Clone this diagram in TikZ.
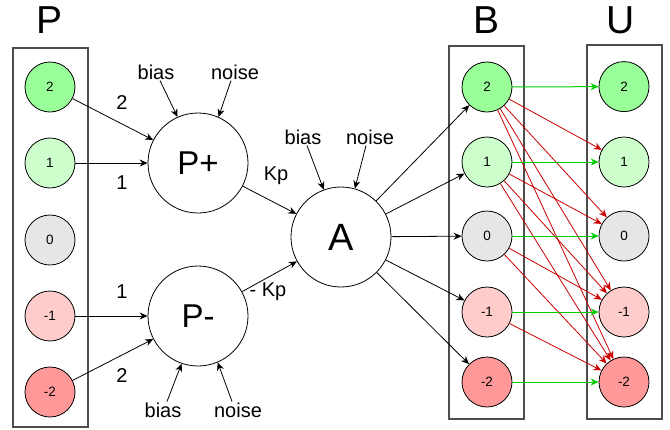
\documentclass[tikz,border=0pt]{standalone}
\usepackage{fontspec}
\setmainfont{Liberation Sans}
\usetikzlibrary{arrows.meta}
\definecolor{gA}{HTML}{99FF99}
\definecolor{gB}{HTML}{CCFFCC}
\definecolor{grA}{HTML}{E6E6E6}
\definecolor{rB}{HTML}{FFCCCC}
\definecolor{rA}{HTML}{FF9999}
\definecolor{garr}{HTML}{00CC00}
\definecolor{rarr}{HTML}{CC0000}
\definecolor{boxc}{HTML}{4D4D4D}
\begin{document}
\begin{tikzpicture}[x=1pt,y=-1pt,
  small/.style={circle,draw=black,line width=0.8pt,minimum size=50pt,inner sep=0pt,font=\fontsize{13.5}{15}\selectfont},
  big/.style={circle,draw=black,line width=0.8pt,fill=white,minimum size=100pt,inner sep=0pt},
  colbox/.style={draw=boxc,line width=1.2pt},
  title/.style={font=\fontsize{39}{42}\selectfont},
  lbl/.style={font=\fontsize{20}{23}\selectfont,inner sep=1pt},
  arr/.style={-{Stealth[length=8pt,width=7pt]},line width=0.8pt},
  garrow/.style={arr,draw=garr,line width=1pt},
  rarrow/.style={arr,draw=rarr},
]
\useasboundingbox (0,0) rectangle (670,429);
% boxes
\draw[colbox] (13,48) rectangle (88,427);
\draw[colbox] (449,46) rectangle (524,419);
\draw[colbox] (587,45) rectangle (662,419);
% titles
\node[title] (tP) at (50,20) {P};
\node[title] (tB) at (487,20) {B};
\node[title] (tU) at (621,20) {U};
% P column
\node[small,fill=gA] (p2) at (50,87) {2};
\node[small,fill=gB] (p1) at (50,163) {1};
\node[small,fill=grA] (p0) at (50,240) {0};
\node[small,fill=rB] (pm1) at (50,316) {-1};
\node[small,fill=rA] (pm2) at (50,392) {-2};
% B column
\node[small,fill=gA] (b2) at (487,87) {2};
\node[small,fill=gB] (b1) at (487,162) {1};
\node[small,fill=grA] (b0) at (487,236) {0};
\node[small,fill=rB] (bm1) at (487,312) {-1};
\node[small,fill=rA] (bm2) at (487,382) {-2};
% U column
\node[small,fill=gA] (u2) at (624,86.6) {2};
\node[small,fill=gB] (u1) at (624,162) {1};
\node[small,fill=grA] (u0) at (624,236) {0};
\node[small,fill=rB] (um1) at (624,312) {-1};
\node[small,fill=rA] (um2) at (624,382) {-2};
% big nodes
\node[big,font=\fontsize{33}{36}\selectfont] (pp) at (198,163) {P+};
\node[big,font=\fontsize{33}{36}\selectfont] (pm) at (198,316) {P-};
\node[big,font=\fontsize{38}{42}\selectfont] (a) at (341,237) {A};
% bias / noise labels
\node[lbl] (bias1) at (156,72) {bias};
\node[lbl] (noise1) at (235,72) {noise};
\node[lbl] (bias2) at (163,410) {bias};
\node[lbl] (noise2) at (238,410) {noise};
\node[lbl] (bias3) at (303,137) {bias};
\node[lbl] (noise3) at (370,137) {noise};
\draw[arr] ([xshift=4pt]bias1.south) -- (pp.114);
\draw[arr] ([xshift=-4pt]noise1.south) -- (pp.66);
\draw[arr] ([xshift=4pt]bias2.north) -- (pm.251);
\draw[arr] ([xshift=-6pt]noise2.north) -- (pm.293);
\draw[arr] ([xshift=4pt]bias3.south) -- (a.110);
\draw[arr] ([xshift=-4pt]noise3.south) -- (a.74);
% P -> P+/P-
\draw[arr] (p2) -- (pp);
\draw[arr] (p1) -- (pp);
\draw[arr] (pm1) -- (pm);
\draw[arr] (pm2) -- (pm);
\node[lbl] (w1) at (122,103) {2};
\node[lbl] (w2) at (122,183) {1};
\node[lbl] (w3) at (122,292) {1};
\node[lbl] (w4) at (122,376) {2};
% P+/- -> A
\draw[arr] (pp) -- (a);
\draw[arr] (pm) -- (a);
\node[lbl] (kp1) at (276,176) {Kp};
\node[lbl] (kp2) at (268,292) {- Kp};
% A -> B
\draw[arr] (a) -- (b2);
\draw[arr] (a) -- (b1);
\draw[arr] (a) -- (b0);
\draw[arr] (a) -- (bm1);
\draw[arr] (a) -- (bm2);
% red B -> U
\draw[rarrow] (b2) -- (u1);
\draw[rarrow] (b2) -- (u0);
\draw[rarrow] (b2) -- (um1);
\draw[rarrow] (b2) -- (um2);
\draw[rarrow] (b1) -- (u0);
\draw[rarrow] (b1) -- (um1);
\draw[rarrow] (b1) -- (um2);
\draw[rarrow] (b0) -- (um1);
\draw[rarrow] (b0) -- (um2);
\draw[rarrow] (bm1) -- (um2);
% green B -> U
\draw[garrow] (b2) -- (u2);
\draw[garrow] (b1) -- (u1);
\draw[garrow] (b0) -- (u0);
\draw[garrow] (bm1) -- (um1);
\draw[garrow] (bm2) -- (um2);
\end{tikzpicture}
\end{document}
